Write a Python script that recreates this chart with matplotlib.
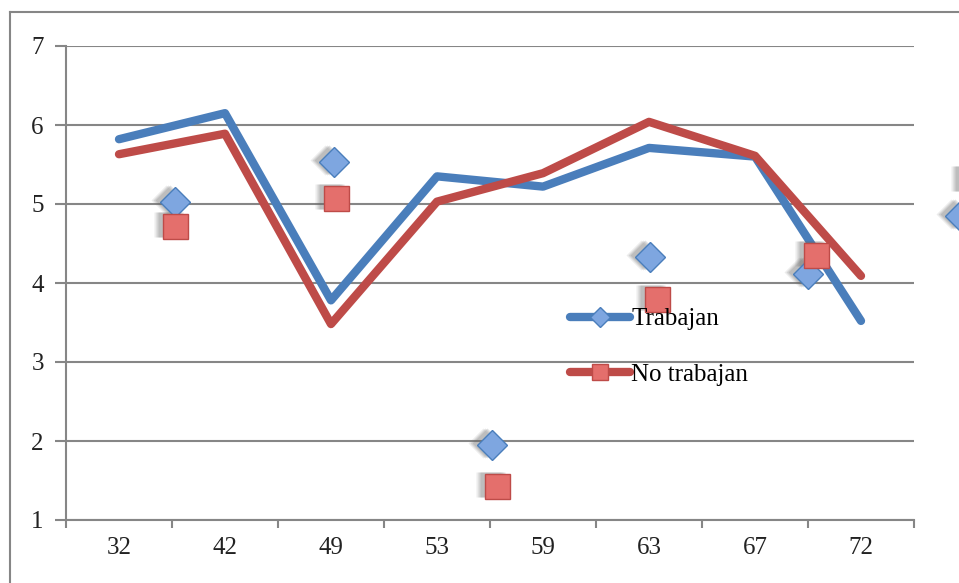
import numpy as np
import matplotlib.pyplot as plt
from matplotlib.lines import Line2D
from matplotlib.transforms import offset_copy

# ages and mean scores per group
ages = ['32', '42', '49', '53', '59', '63', '67', '72']
trabajan = [5.82, 6.15, 3.78, 5.35, 5.22, 5.71, 5.60, 3.52]
no_trabajan = [5.63, 5.89, 3.48, 5.03, 5.39, 6.04, 5.61, 4.09]

# second set of points (plotted on a shifted scale)
pts_x_trab = [0.53, 2.03, 3.52, 5.01, 6.50, 7.93]
pts_y_trab = [5.03, 5.53, 1.95, 4.33, 4.12, 4.85]
pts_x_notrab = [0.53, 2.05, 3.57, 5.08, 6.58, 8.05]
pts_y_notrab = [4.72, 5.08, 1.43, 3.80, 4.35, 5.30]

blue = '#4A7EBB'
red = '#BE4B48'
blue_face = '#7EA6E0'
red_face = '#E46F6C'
grid_c = '#868686'

plt.rcParams['font.family'] = ['Liberation Serif', 'DejaVu Serif']

fig = plt.figure(figsize=(9.59, 5.83), dpi=100)
ax = fig.add_axes([66/959, 63/583, 848/959, 474/583])

x = np.arange(len(ages))
ax.plot(x, trabajan, color=blue, lw=6, solid_capstyle='round', solid_joinstyle='round', zorder=3)
ax.plot(x, no_trabajan, color=red, lw=6, solid_capstyle='round', solid_joinstyle='round', zorder=3)

# soft drop shadows under the markers
for dx, a in [(-9, 0.12), (-7, 0.18), (-5, 0.2)]:
    sh = offset_copy(ax.transData, fig=fig, x=dx, y=2, units='dots')
    ax.plot(pts_x_trab, pts_y_trab, 'D', ms=15, color='#666666', alpha=a, mec='none',
            transform=sh, clip_on=False, zorder=4)
    ax.plot(pts_x_notrab, pts_y_notrab, 's', ms=18, color='#666666', alpha=a, mec='none',
            transform=sh, clip_on=False, zorder=4)

ax.plot(pts_x_trab, pts_y_trab, 'D', ms=15, mfc=blue_face, mec=blue, mew=1,
        clip_on=False, zorder=5)
ax.plot(pts_x_notrab, pts_y_notrab, 's', ms=18, mfc=red_face, mec=red, mew=1,
        clip_on=False, zorder=5)

ax.set_xlim(-0.5, len(ages) - 0.5)
ax.set_ylim(1, 7)
ax.set_xticks(x)
ax.set_xticklabels(ages)
ax.set_xticks(np.arange(-0.5, len(ages)), minor=True)
ax.set_yticks(range(1, 8))
ax.tick_params(axis='x', which='major', length=0, pad=12, labelsize=18, colors='#222222')
ax.tick_params(axis='x', which='minor', length=6, width=1.5, color=grid_c, direction='out')
ax.tick_params(axis='y', length=8, width=1.5, color=grid_c, pad=8, labelsize=18, labelcolor='#222222')
ax.grid(axis='y', color=grid_c, lw=1.5)
ax.set_axisbelow(True)
for s in ['top', 'right']:
    ax.spines[s].set_visible(False)
for s in ['left', 'bottom']:
    ax.spines[s].set_color(grid_c)
    ax.spines[s].set_linewidth(1.5)

handles = [
    Line2D([], [], color=blue, lw=6, solid_capstyle='round', marker='D', ms=10,
           mfc=blue_face, mec=blue),
    Line2D([], [], color=red, lw=6, solid_capstyle='round', marker='s', ms=11,
           mfc=red_face, mec=red),
]
leg = ax.legend(handles, ['Trabajan', 'No trabajan'], loc='upper left',
                bbox_to_anchor=(570/959, 1 - 308/583), bbox_transform=fig.transFigure,
                frameon=False, fontsize=18, handlelength=2.4, handletextpad=0.05,
                labelspacing=1.3, borderaxespad=0, borderpad=0)
leg.set_zorder(6)

# outer chart border
fig.add_artist(Line2D([10/959, 10/959], [0, 1 - 12/583], color=grid_c, lw=1.5))
fig.add_artist(Line2D([10/959, 1], [1 - 12/583, 1 - 12/583], color=grid_c, lw=1.5))

fig.savefig('out.png', dpi=100)
